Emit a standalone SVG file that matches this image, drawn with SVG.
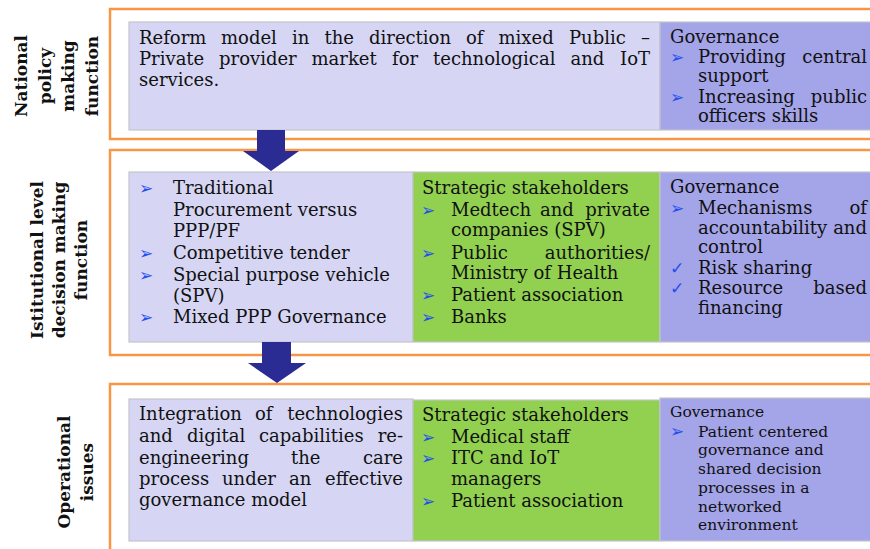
<svg xmlns="http://www.w3.org/2000/svg" width="870" height="549" viewBox="0 0 870 549">
<style>
.frame{fill:none;stroke:#f79646;stroke-width:2.5}
.lav{fill:#d6d6f4;stroke:#c4c4cc;stroke-width:1.2}
.gov{fill:#a4a4e8;stroke:#c4c4cc;stroke-width:1.2}
.grn{fill:#92d050;stroke:#c4c4cc;stroke-width:1.2}
text{font-family:"DejaVu Serif","Liberation Serif",serif;fill:#111}
.t{font-size:18px}
.s{font-size:15.5px}
.lbl{font-size:17px;font-weight:bold;text-anchor:middle}
.b{font-family:"DejaVu Sans",sans-serif;font-size:17px;fill:#1f4ef0}
.e{text-anchor:end}
.arrow{fill:#2b2b94}
</style>
<rect class="frame" x="110" y="9" width="790" height="130"/>
<rect class="frame" x="110" y="150" width="790" height="205"/>
<rect class="frame" x="110" y="384" width="790" height="200"/>

<g id="label-national">
<text class="lbl" transform="translate(27,76) rotate(-90)">National</text>
<text class="lbl" transform="translate(50.5,76) rotate(-90)">policy</text>
<text class="lbl" transform="translate(74,76) rotate(-90)">making</text>
<text class="lbl" transform="translate(97.5,76) rotate(-90)">function</text>
</g>
<g id="label-institutional">
<text class="lbl" transform="translate(43,260) rotate(-90)">Istitutional level</text>
<text class="lbl" transform="translate(65,260) rotate(-90)">decision making</text>
<text class="lbl" transform="translate(87,260) rotate(-90)">function</text>
</g>
<g id="label-operational">
<text class="lbl" transform="translate(70,472) rotate(-90)">Operational</text>
<text class="lbl" transform="translate(93,472) rotate(-90)">issues</text>
</g>

<g id="national-reform">
<rect class="lav" x="129" y="22" width="531" height="108"/>
<text class="t" y="44"><tspan x="139">Reform</tspan><tspan x="221">model</tspan><tspan x="292">in</tspan><tspan x="324.5">the</tspan><tspan x="369">direction</tspan><tspan x="466">of</tspan><tspan x="498.5">mixed</tspan><tspan x="569">Public</tspan></text>
<text class="t e" x="650" y="44">–</text>
<text class="t" y="65"><tspan x="139">Private</tspan><tspan x="219">provider</tspan><tspan x="311.5">market</tspan><tspan x="392">for</tspan><tspan x="433">technological</tspan><tspan x="570.5">and</tspan></text>
<text class="t e" x="650" y="65">IoT</text>
<text class="t" x="139" y="86">services.</text>
</g>
<g id="national-governance">
<rect class="gov" x="660" y="22" width="220" height="108"/>
<text class="t" x="670" y="43">Governance</text>
<text class="b" x="670" y="63">➢</text>
<text class="t" x="698" y="63">Providing</text>
<text class="t e" x="867" y="63">central</text>
<text class="t" x="698" y="82">support</text>
<text class="b" x="670" y="103">➢</text>
<text class="t" x="698" y="103">Increasing</text>
<text class="t e" x="867" y="103">public</text>
<text class="t" x="698" y="122">officers skills</text>
</g>

<g id="institutional-procurement">
<rect class="lav" x="129" y="172" width="284" height="170"/>
<text class="b" x="139" y="194">➢</text>
<text class="t" x="173" y="194">Traditional</text>
<text class="t" x="173" y="216">Procurement versus</text>
<text class="t" x="173" y="237">PPP/PF</text>
<text class="b" x="139" y="259">➢</text>
<text class="t" x="173" y="259">Competitive tender</text>
<text class="b" x="139" y="281">➢</text>
<text class="t" x="173" y="281">Special purpose vehicle</text>
<text class="t" x="173" y="302">(SPV)</text>
<text class="b" x="139" y="323">➢</text>
<text class="t" x="173" y="323">Mixed PPP Governance</text>
</g>
<g id="institutional-stakeholders">
<rect class="grn" x="413" y="172" width="247" height="170"/>
<text class="t" x="422" y="194">Strategic stakeholders</text>
<text class="b" x="421" y="216">➢</text>
<text class="t" y="216"><tspan x="451">Medtech</tspan><tspan x="540">and</tspan></text>
<text class="t e" x="650" y="216">private</text>
<text class="t" x="451" y="236">companies (SPV)</text>
<text class="b" x="421" y="259">➢</text>
<text class="t" x="451" y="259">Public</text>
<text class="t e" x="650" y="259">authorities/</text>
<text class="t" x="451" y="279">Ministry of Health</text>
<text class="b" x="421" y="301">➢</text>
<text class="t" x="451" y="301">Patient association</text>
<text class="b" x="421" y="323">➢</text>
<text class="t" x="451" y="323">Banks</text>
</g>
<g id="institutional-governance">
<rect class="gov" x="660" y="172" width="220" height="170"/>
<text class="t" x="670" y="193">Governance</text>
<text class="b" x="670" y="214">➢</text>
<text class="t" x="698" y="214">Mechanisms</text>
<text class="t e" x="867" y="214">of</text>
<text class="t" x="698" y="234">accountability</text>
<text class="t e" x="867" y="234">and</text>
<text class="t" x="698" y="253">control</text>
<text class="b" x="670" y="274">✓</text>
<text class="t" x="698" y="274">Risk sharing</text>
<text class="b" x="670" y="294">✓</text>
<text class="t" x="698" y="294">Resource</text>
<text class="t e" x="867" y="294">based</text>
<text class="t" x="698" y="314">financing</text>
</g>

<g id="operational-integration">
<rect class="lav" x="129" y="399" width="284" height="142"/>
<text class="t" y="420"><tspan x="139">Integration</tspan><tspan x="255">of</tspan></text>
<text class="t e" x="403" y="420">technologies</text>
<text class="t" y="442"><tspan x="139">and</tspan><tspan x="187">digital</tspan><tspan x="259">capabilities</tspan></text>
<text class="t e" x="403" y="442">re-</text>
<text class="t" y="464"><tspan x="139">engineering</tspan><tspan x="291">the</tspan></text>
<text class="t e" x="403" y="464">care</text>
<text class="t" y="485"><tspan x="139">process</tspan><tspan x="222">under</tspan><tspan x="289">an</tspan></text>
<text class="t e" x="403" y="485">effective</text>
<text class="t" x="139" y="506">governance model</text>
</g>
<g id="operational-stakeholders">
<rect class="grn" x="413" y="400" width="247" height="141"/>
<text class="t" x="422" y="421">Strategic stakeholders</text>
<text class="b" x="421" y="443">➢</text>
<text class="t" x="451" y="443">Medical staff</text>
<text class="b" x="421" y="464">➢</text>
<text class="t" x="451" y="464">ITC and IoT</text>
<text class="t" x="451" y="485">managers</text>
<text class="b" x="421" y="507">➢</text>
<text class="t" x="451" y="507">Patient association</text>
</g>
<g id="operational-governance">
<rect class="gov" x="660" y="398" width="220" height="143"/>
<text class="s" x="670" y="417">Governance</text>
<text class="b" x="670" y="437">➢</text>
<text class="s" x="698" y="437">Patient centered</text>
<text class="s" x="698" y="455">governance and</text>
<text class="s" x="698" y="474">shared decision</text>
<text class="s" x="698" y="493">processes  in a</text>
<text class="s" x="698" y="512">networked</text>
<text class="s" x="698" y="530">environment</text>
</g>

<g id="connectors">
<polygon class="arrow" points="257,130 285,130 285,151 299,151 271,171 243,151 257,151"/>
<polygon class="arrow" points="262,342 291,342 291,363 306,363 277,383 248,363 262,363"/>
</g>
</svg>
